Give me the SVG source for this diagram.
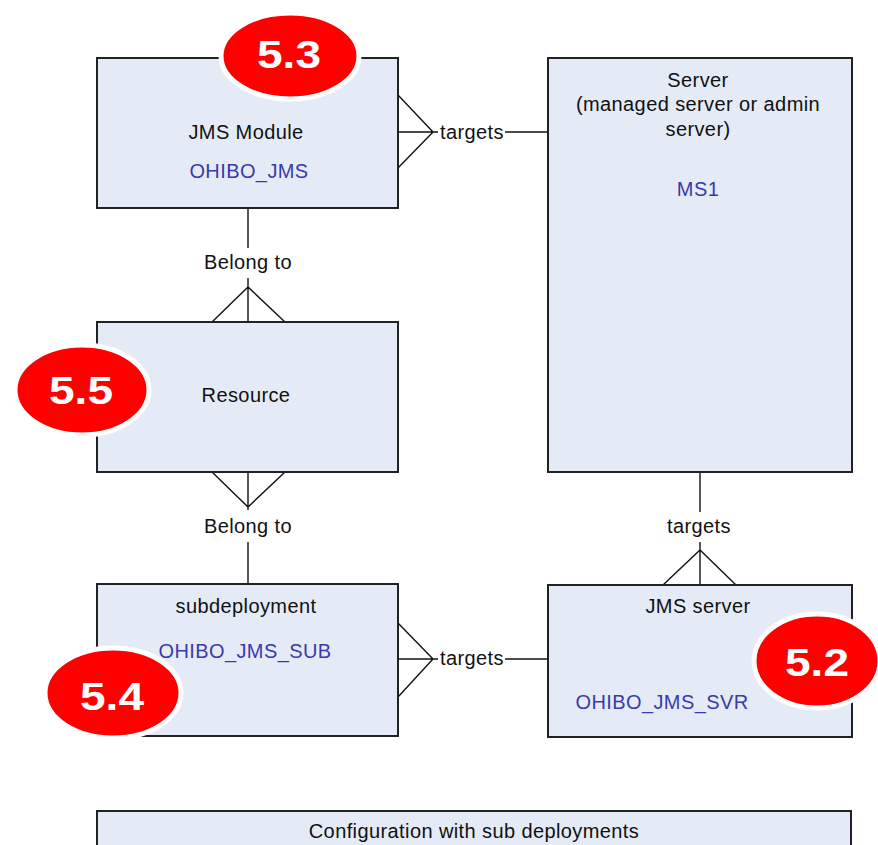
<svg xmlns="http://www.w3.org/2000/svg" width="878" height="845" viewBox="0 0 878 845">
<style>
.box{fill:#e5ebf6;stroke:#222;stroke-width:2}
.t{font-family:"Liberation Sans",Arial,sans-serif;font-size:20px;letter-spacing:0.4px;fill:#111;text-anchor:middle}
.b{fill:#3a3aa8}
.c{fill:none;stroke:#111;stroke-width:1.4}
.badge ellipse{fill:#ff0000;stroke:#fff;stroke-width:5}
.badge text{font-family:"Liberation Sans",Arial,sans-serif;font-size:38px;font-weight:bold;fill:#fff;text-anchor:middle}
</style>
<rect width="878" height="845" fill="#fff"/>
<g id="connectors">
<path class="c" d="M248,208V248M248,278V322M212,322L248,287L285,322"/>
<path class="c" d="M248,472V510M212,472L248,507L285,472M248,542V584"/>
<path class="c" d="M398,132H438M398,95L433,132L398,168M505,132H548"/>
<path class="c" d="M398,659H438M398,623L433,659L398,697M505,659H548"/>
<path class="c" d="M700,472V512M700,542V585M663,585L700,550L736,585"/>
<text class="t" x="472" y="139">targets</text>
<text class="t" x="472" y="665">targets</text>
<text class="t" x="248" y="269">Belong to</text>
<text class="t" x="248" y="533">Belong to</text>
<text class="t" x="699" y="533">targets</text>
</g>
<g id="jms-module">
<rect class="box" x="97" y="58" width="301" height="150"/>
<text class="t" x="246" y="139">JMS Module</text>
<text class="t b" x="249" y="178">OHIBO_JMS</text>
</g>
<g id="server">
<rect class="box" x="548" y="58" width="304" height="414"/>
<text class="t" x="698" y="87">Server</text>
<text class="t" x="698" y="111">(managed server or admin</text>
<text class="t" x="698" y="136">server)</text>
<text class="t b" x="698" y="196">MS1</text>
</g>
<g id="resource">
<rect class="box" x="97" y="322" width="301" height="150"/>
<text class="t" x="246" y="402">Resource</text>
</g>
<g id="subdeployment">
<rect class="box" x="97" y="584" width="301" height="152"/>
<text class="t" x="246" y="613">subdeployment</text>
<text class="t b" x="245" y="658">OHIBO_JMS_SUB</text>
</g>
<g id="jms-server">
<rect class="box" x="548" y="585" width="304" height="152"/>
<text class="t" x="698" y="613">JMS server</text>
<text class="t b" x="662" y="709">OHIBO_JMS_SVR</text>
</g>
<g id="caption">
<rect class="box" x="97" y="811" width="754" height="60"/>
<text class="t" x="474" y="838">Configuration with sub deployments</text>
</g>
<g id="badge-5-3" class="badge">
<ellipse cx="290" cy="56" rx="69" ry="43"/>
<text x="289" y="68" textLength="64" lengthAdjust="spacingAndGlyphs">5.3</text>
</g>
<g id="badge-5-5" class="badge">
<ellipse cx="82" cy="390" rx="67" ry="45"/>
<text x="81" y="404" textLength="64" lengthAdjust="spacingAndGlyphs">5.5</text>
</g>
<g id="badge-5-4" class="badge">
<ellipse cx="113" cy="693" rx="68" ry="45"/>
<text x="112" y="710" textLength="64" lengthAdjust="spacingAndGlyphs">5.4</text>
</g>
<g id="badge-5-2" class="badge">
<ellipse cx="817" cy="661" rx="63" ry="47"/>
<text x="817" y="676" textLength="64" lengthAdjust="spacingAndGlyphs">5.2</text>
</g>
</svg>
